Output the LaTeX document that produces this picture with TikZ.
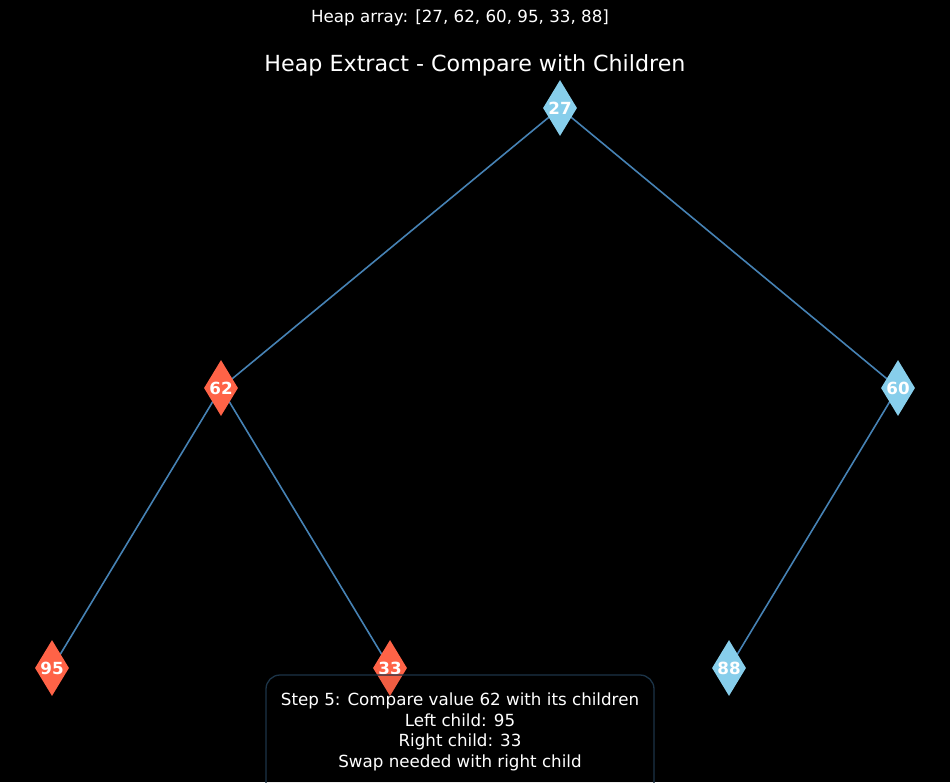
\documentclass[tikz,border=0pt]{standalone}
\usepackage{fontspec}
\setmainfont{DejaVu Sans}
\usetikzlibrary{shapes.geometric}
\definecolor{skyb}{HTML}{87CEEB}
\definecolor{tomatoc}{HTML}{FF6347}
\definecolor{steelb}{HTML}{4682B4}
\tikzset{
  hnode/.style={diamond, minimum width=34pt, minimum height=56pt, inner sep=0pt,
    text=white, font=\fontsize{16.7}{18}\selectfont\bfseries, aspect=0.6},
  blue/.style={hnode, fill=skyb},
  red/.style={hnode, fill=tomatoc},
  edge/.style={draw=steelb, line width=1.6pt},
  infobox/.style={draw=steelb!40!black, line width=1.3pt, rounded corners=14pt, fill=black, fill opacity=0.06, text opacity=1}
}
\begin{document}
\begin{tikzpicture}[x=1pt,y=-1pt]
\fill[black] (0,0) rectangle (950,782);
\useasboundingbox (0,0) rectangle (950,782);
\node[text=white, font=\fontsize{16.7}{18}\selectfont] (arr) at (460,18) {Heap array: [27, 62, 60, 95, 33, 88]};
\node[text=white, font=\fontsize{22.2}{24}\selectfont] (title) at (475,65) {Heap Extract - Compare with Children};
\coordinate (p1) at (560,108);
\coordinate (p2) at (221,388);
\coordinate (p3) at (898,388);
\coordinate (p4) at (52,668);
\coordinate (p5) at (390,668);
\coordinate (p6) at (729,668);
\draw[edge] (p1) -- (p2);
\draw[edge] (p1) -- (p3);
\draw[edge] (p2) -- (p4);
\draw[edge] (p2) -- (p5);
\draw[edge] (p3) -- (p6);
\node[blue] (n1) at (p1) {27};
\node[red] (n2) at (p2) {62};
\node[blue] (n3) at (p3) {60};
\node[red] (n4) at (p4) {95};
\node[red] (n5) at (p5) {33};
\node[blue] (n6) at (p6) {88};
\draw[infobox] (266,675) rectangle (654,800);
\node[text=white, align=center, font=\fontsize{16.7}{20.5}\selectfont, anchor=north] (info) at (460,689.5) {Step 5: Compare value 62 with its children\\Left child: 95\\Right child: 33\\Swap needed with right child};
\end{tikzpicture}
\end{document}
